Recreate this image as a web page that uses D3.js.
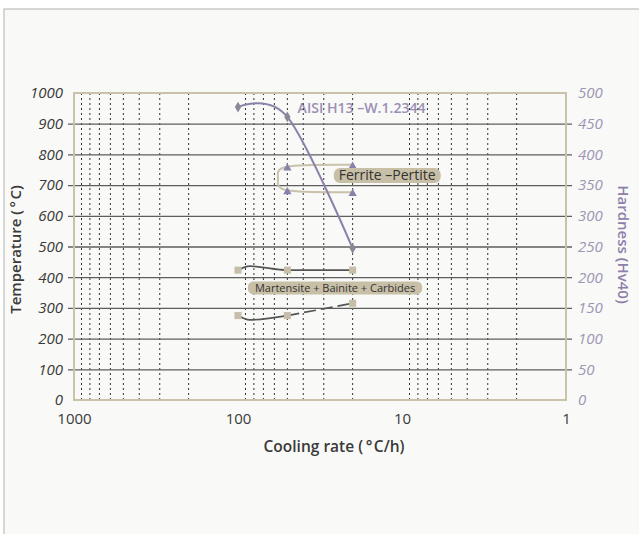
<!DOCTYPE html>
<html>
<head>
<meta charset="utf-8">
<script src="https://cdn.jsdelivr.net/npm/d3@7"></script>
<style>
  body { margin: 0; background: #fff; }
  text { font-family: "Open Sans", "Noto Sans", sans-serif; }
</style>
</head>
<body>
<div id="container"></div>
<script>
/* DATA */
const tempTicks = [0, 100, 200, 300, 400, 500, 600, 700, 800, 900, 1000]
const hardTicks = [0, 50, 100, 150, 200, 250, 300, 350, 400, 450, 500]
const rateTicks = [1000, 100, 10, 1]

// hardness curve (Hv40)
const hardRates = [100, 50, 20]
const hardValues = [477, 461, 247]

// ferrite - pearlite start / end (°C)
const ferStartRates = [50, 20]
const ferStartTemps = [760, 766]
const ferNoseRates = [57]
const ferNoseTemps = [722]
const ferEndRates = [50, 20]
const ferEndTemps = [683, 677]

// martensite / bainite lines (°C)
const upperRates = [100, 85, 50, 20]
const upperTemps = [423, 436, 423, 423]
const lowerRates = [100, 85, 50]
const lowerTemps = [275, 261, 275]
const lowerDashRates = [50, 20]
const lowerDashTemps = [275, 315]
const squareRates = [100, 50, 20]
const squareUpper = [423, 423, 423]
const squareLower = [275, 275, 315]

/* CONSTANTS */
const width = 639, height = 534
const plot = { left: 74, right: 566, top: 93, bottom: 400 }
const purple = "#8c80aa", tan = "#c9c1aa", dark = "#3a3a3a"

const svg = d3.select("#container").append("svg")
  .attr("width", width).attr("height", height)

// panel
svg.append("rect").attr("x", 4).attr("y", 9)
  .attr("width", width + 10).attr("height", height + 10)
  .attr("fill", "#f9f9f7").attr("stroke", "#bdbdbd").attr("stroke-width", 1.2)

// SCALES
const x = d3.scaleLog().domain([1000, 1]).range([plot.left, plot.right])
const yT = d3.scaleLinear().domain([0, 1000]).range([plot.bottom, plot.top])
const yH = d3.scaleLinear().domain([0, 500]).range([plot.bottom, plot.top])

// steel name (under the grid, as in the original)
svg.append("text")
  .attr("x", x(43.3)).attr("y", yH(475.5))
  .attr("dy", "0.35em")
  .attr("fill", "#9a90b6").attr("font-size", 14.5).attr("font-weight", 600)
  .attr("textLength", 128).attr("lengthAdjust", "spacingAndGlyphs")
  .text("AISI H13 –W.1.2344")

// minor vertical dotted grid
const minor = x.ticks().filter(d => Math.abs(Math.log10(d) - Math.round(Math.log10(d))) > 1e-6)
svg.append("g").selectAll("line").data(minor).join("line")
  .attr("x1", d => x(d)).attr("x2", d => x(d))
  .attr("y1", plot.top).attr("y2", plot.bottom)
  .attr("stroke", "#333").attr("stroke-width", 1).attr("stroke-dasharray", "2,3")

// LEFT AXIS + horizontal grid
const yAxis = d3.axisLeft(yT).tickValues(tempTicks).tickFormat(d3.format("d"))
  .tickSize(-(572 - 68)).tickSizeOuter(0).tickPadding(5)
const yAxisGroup = svg.append("g").attr("transform", `translate(68,0)`).call(yAxis)
yAxisGroup.select(".domain").remove()
yAxisGroup.selectAll("line")
  .attr("stroke", "#5e5e5e").attr("stroke-width", 1.3)
  .attr("opacity", d => (d === 0 || d === 1000) ? 0 : 1)
yAxisGroup.selectAll("text")
  .attr("fill", dark).attr("font-size", 15).attr("font-style", "italic")

// RIGHT AXIS
const hAxis = d3.axisRight(yH).tickValues(hardTicks).tickSize(0).tickPadding(6)
const hAxisGroup = svg.append("g").attr("transform", `translate(572,0)`).call(hAxis)
hAxisGroup.select(".domain").remove()
hAxisGroup.selectAll("text")
  .attr("fill", "#9d96b4").attr("font-size", 15).attr("font-style", "italic")

// BOTTOM AXIS
const xAxis = d3.axisBottom(x).tickValues(rateTicks).tickFormat(d3.format("d"))
  .tickSize(0).tickPadding(13)
const xAxisGroup = svg.append("g").attr("transform", `translate(0,${plot.bottom})`).call(xAxis)
xAxisGroup.select(".domain").remove()
xAxisGroup.selectAll("text").attr("fill", dark).attr("font-size", 15)

// plot frame
svg.append("rect")
  .attr("x", plot.left).attr("y", plot.top)
  .attr("width", plot.right - plot.left).attr("height", plot.bottom - plot.top)
  .attr("fill", "none").attr("stroke", tan).attr("stroke-width", 2)

// AXIS TITLES
svg.append("text")
  .attr("transform", `translate(16,${(plot.top + plot.bottom) / 2 + 3}) rotate(-90)`)
  .attr("text-anchor", "middle").attr("dy", "0.35em")
  .attr("fill", dark).attr("font-size", 15).attr("font-weight", 600)
  .text("Temperature (\u2009°\u200aC)")

svg.append("text")
  .attr("transform", `translate(623,${(plot.top + plot.bottom) / 2 - 2}) rotate(90)`)
  .attr("text-anchor", "middle").attr("dy", "0.35em")
  .attr("fill", purple).attr("font-size", 15).attr("font-weight", 600)
  .text("Hardness (Hv40)")

svg.append("text")
  .attr("x", 334).attr("y", 447).attr("dy", "0.35em")
  .attr("text-anchor", "middle")
  .attr("fill", dark).attr("font-size", 15.5).attr("font-weight", 600)
  .text("Cooling rate (\u2009°\u200aC/h)")

// LINE GENERATORS
const lineT = d3.line().x(d => x(d[0])).y(d => yT(d[1])).curve(d3.curveMonotoneX)
const smoothT = d3.line().x(d => x(d[0])).y(d => yT(d[1])).curve(d3.curveCardinal.tension(0))
const smoothH = d3.line().x(d => x(d[0])).y(d => yH(d[1])).curve(d3.curveCardinal.tension(0))

// ferrite bracket
const ferPts = [
  ...d3.zip(ferStartRates, ferStartTemps).reverse(),
  ...d3.zip(ferNoseRates, ferNoseTemps),
  ...d3.zip(ferEndRates, ferEndTemps)
]
svg.append("path").datum(ferPts)
  .attr("fill", "none").attr("stroke", tan).attr("stroke-width", 2)
  .attr("d", smoothT)

const tri = d3.symbol().type(d3.symbolTriangle).size(30)
svg.append("g").selectAll("path")
  .data([...d3.zip(ferStartRates, ferStartTemps), ...d3.zip(ferEndRates, ferEndTemps)])
  .join("path")
  .attr("transform", d => `translate(${x(d[0])},${yT(d[1]) + 1.5})`)
  .attr("d", tri).attr("fill", purple)

// martensite / bainite lines
svg.append("path").datum(d3.zip(upperRates, upperTemps))
  .attr("fill", "none").attr("stroke", "#555").attr("stroke-width", 1.7)
  .attr("d", lineT)
svg.append("path").datum(d3.zip(lowerRates, lowerTemps))
  .attr("fill", "none").attr("stroke", "#555").attr("stroke-width", 1.7)
  .attr("d", lineT)
svg.append("path").datum(d3.zip(lowerDashRates, lowerDashTemps))
  .attr("fill", "none").attr("stroke", "#555").attr("stroke-width", 1.7)
  .attr("stroke-dasharray", "12,5")
  .attr("d", lineT)

const sq = d3.symbol().type(d3.symbolSquare).size(50)
svg.append("g").selectAll("path")
  .data([...d3.zip(squareRates, squareUpper), ...d3.zip(squareRates, squareLower)])
  .join("path")
  .attr("transform", d => `translate(${x(d[0])},${yT(d[1])})`)
  .attr("d", sq).attr("fill", "#c6bea8")

// hardness curve
svg.append("path").datum(d3.zip(hardRates, hardValues))
  .attr("fill", "none").attr("stroke", purple).attr("stroke-width", 2)
  .attr("d", smoothH)

const dia = d3.symbol().type(d3.symbolDiamond).size(34)
svg.append("g").selectAll("path")
  .data(d3.zip(hardRates, hardValues))
  .join("path")
  .attr("transform", d => `translate(${x(d[0])},${yH(d[1])})`)
  .attr("d", dia).attr("fill", "#8b8795")

// LABEL PILLS
function pill(rate, temp, label, size, padX, h) {
  const g = svg.append("g").attr("transform", `translate(${x(rate)},${yT(temp)})`)
  const t = g.append("text")
    .attr("text-anchor", "middle").attr("dy", "0.35em")
    .attr("fill", "#333").attr("font-size", size).attr("font-weight", 500)
    .text(label)
  const w = t.node().getComputedTextLength() + padX * 2
  g.insert("rect", "text")
    .attr("x", -w / 2).attr("y", -h / 2).attr("width", w).attr("height", h)
    .attr("rx", h / 2.4).attr("fill", "#c8bfa7")
}
pill(12.3, 731, "Ferrite –Pertite", 14, 5, 15)
pill(25.6, 365, "Martensite + Bainite + Carbides", 11, 7, 13)
</script>
</body>
</html>
